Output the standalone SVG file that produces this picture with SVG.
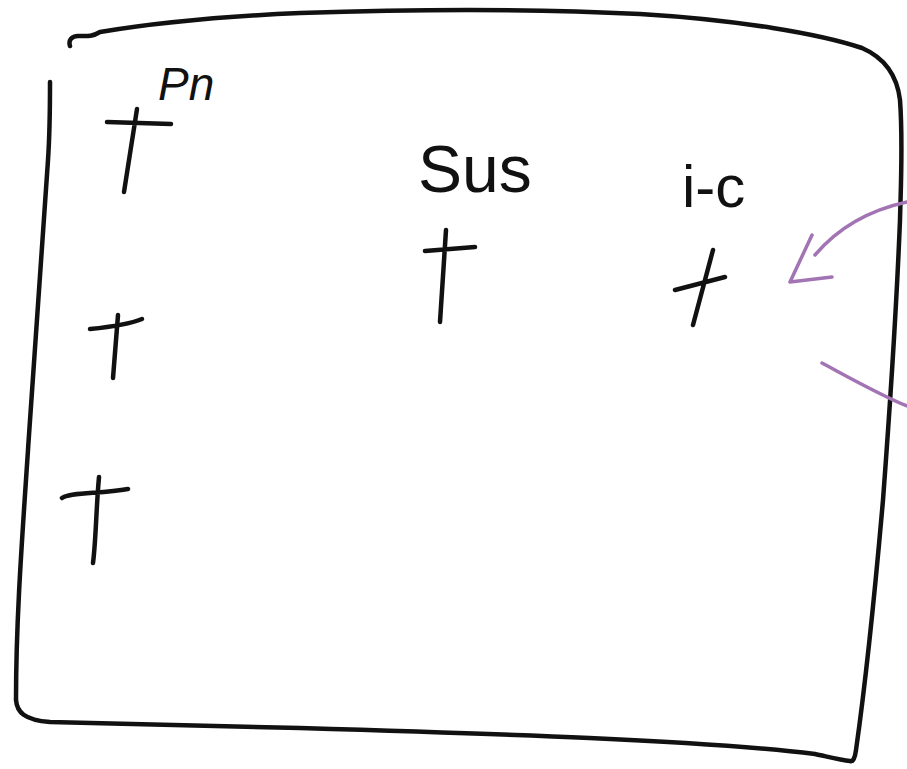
<svg xmlns="http://www.w3.org/2000/svg" width="907" height="769" viewBox="0 0 907 769">
<style>
.ink{fill:none;stroke:#111;stroke-width:4.5;stroke-linecap:round;stroke-linejoin:round}
.pur{fill:none;stroke:#a274b3;stroke-width:3.5;stroke-linecap:round;stroke-linejoin:round}
.lbl{font-family:"Liberation Sans",Arial,sans-serif;fill:#111}
</style>
<rect width="907" height="769" fill="#fff"/>
<g id="frame">
<path class="ink" d="M70,46 C68,40 72,36 78,36 C86,36 92,37 100,32 C160,22 230,16 300,13 C420,9 540,9 640,14 C740,20 820,34 862,48 C885,58 897,75 900,100 C903,140 901,180 900,220 C896,320 889,420 883,500 C876,580 866,680 856,750 C855,758 853,762 850,761 C840,760 825,756 815,754 C700,740 500,734 300,728 C200,726 120,724 50,722 C24,720 17,712 16,700 C16,620 22,540 28,450 C34,350 42,250 48,160 C50,130 50,100 50,82"/>
</g>
<g id="pn">
<text class="lbl" x="158" y="100" font-size="46" font-style="italic">Pn</text>
<path class="ink" d="M107,122 L171,124 M137,109 L124,192"/>
</g>
<g id="node2">
<path class="ink" d="M90,329 C110,327 130,324 142,319 M118,315 L113,378"/>
</g>
<g id="node3">
<path class="ink" d="M62,498 C70,492 100,494 128,489 M99,477 C96,510 96,540 93,563"/>
</g>
<g id="sus">
<text class="lbl" x="418" y="192" font-size="66">Sus</text>
<path class="ink" d="M425,251 L475,247 M446,230 L440,322"/>
</g>
<g id="ic">
<text class="lbl" x="682" y="207" font-size="60">i-c</text>
<path class="ink" d="M675,290 L725,277 M713,250 L693,325"/>
</g>
<g id="connectors">
<path class="pur" d="M907,202 C870,210 838,228 815,255"/>
<path class="pur" d="M812,235 L790,282 L832,277"/>
<path class="pur" d="M822,363 C850,378 880,395 907,406"/>
</g>
</svg>
